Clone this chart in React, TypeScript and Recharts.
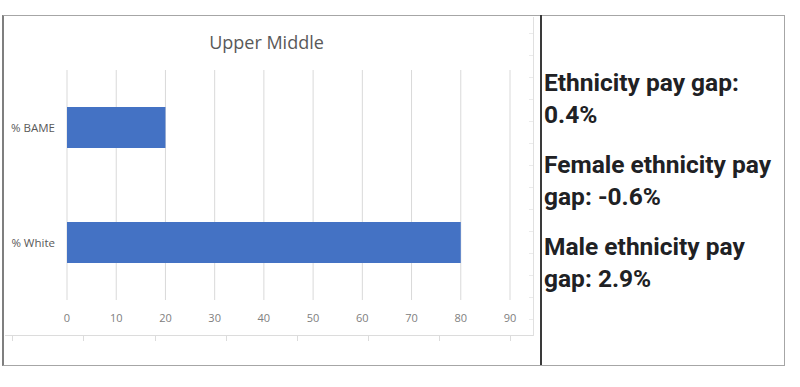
import { BarChart, Bar, XAxis, YAxis, CartesianGrid } from "recharts";

const categories = ["% BAME", "% White"];
const shares = [20, 80];
const xTicks = [0, 10, 20, 30, 40, 50, 60, 70, 80, 90];
const chartTitle = "Upper Middle";
const payGaps = [
  ["Ethnicity pay gap:", "0.4%"],
  ["Female ethnicity pay", "gap: -0.6%"],
  ["Male ethnicity pay", "gap: 2.9%"],
];

const data = categories.map((name, i) => ({ name, value: shares[i] }));

// leftover spreadsheet cell lines around the pasted chart
const colTicks = [12, 83, 155, 226, 297, 368, 439, 510];
const rowTicks = [33, 55, 77, 99, 121, 143, 165, 187, 209, 231, 253, 275, 297, 319];

export default function App() {
  return (
    <div style={{ position: "absolute", left: 0, top: 0, width: 800, height: 387, background: "#fff" }}>
      <div style={{ position: "absolute", left: 2, top: 15, width: 780, height: 349, border: "1px solid #a6a6a6", borderLeft: "2px solid #7f7f7f" }} />
      <div style={{ position: "absolute", left: 540, top: 15, width: 2, height: 350, background: "#3a3a3a" }} />

      <div style={{ position: "absolute", left: 5, top: 335, width: 529, height: 1, background: "#dcdcdc" }} />
      <div style={{ position: "absolute", left: 533, top: 17, width: 1, height: 319, background: "#e0e0e0" }} />
      {colTicks.map((x) => (
        <div key={x} style={{ position: "absolute", left: x, top: 336, width: 1, height: 5, background: "#dcdcdc" }} />
      ))}
      {rowTicks.map((y) => (
        <div key={y} style={{ position: "absolute", left: 529, top: y, width: 4, height: 1, background: "#ebebeb" }} />
      ))}

      <div style={{ position: "absolute", left: 0, top: 29, width: 533, textAlign: "center", fontFamily: "'Open Sans', sans-serif", fontSize: 18, color: "#595959", lineHeight: "26px" }}>
        {chartTitle}
      </div>

      <div style={{ position: "absolute", left: 0, top: 0 }}>
        <BarChart
          width={533}
          height={340}
          data={data}
          layout="vertical"
          margin={{ top: 70, right: 23, bottom: 10, left: 0 }}
        >
          <CartesianGrid horizontal={false} stroke="#d9d9d9" />
          <XAxis
            type="number"
            domain={[0, 90]}
            ticks={xTicks}
            axisLine={false}
            tickLine={false}
            tickMargin={8}
            height={30}
            tick={{ fill: "#808080", fontSize: 11, fontFamily: "'Open Sans', sans-serif" }}
          />
          <YAxis
            type="category"
            dataKey="name"
            width={67}
            axisLine={false}
            tickLine={false}
            tickMargin={6}
            tick={{ fill: "#595959", fontSize: 11.5, fontFamily: "'Open Sans', sans-serif" }}
          />
          <Bar dataKey="value" fill="#4472C4" barSize={41} isAnimationActive={false} />
        </BarChart>
      </div>

      <div style={{ position: "absolute", left: 544, top: 67, width: 238, fontFamily: "Roboto, sans-serif", fontWeight: 700, fontSize: 24.5, color: "#202124", lineHeight: "32px" }}>
        {payGaps.map(([a, b]) => (
          <div key={a} style={{ marginBottom: 18 }}>
            <div style={{ whiteSpace: "nowrap" }}>{a}</div>
            <div style={{ whiteSpace: "nowrap" }}>{b}</div>
          </div>
        ))}
      </div>
    </div>
  );
}
